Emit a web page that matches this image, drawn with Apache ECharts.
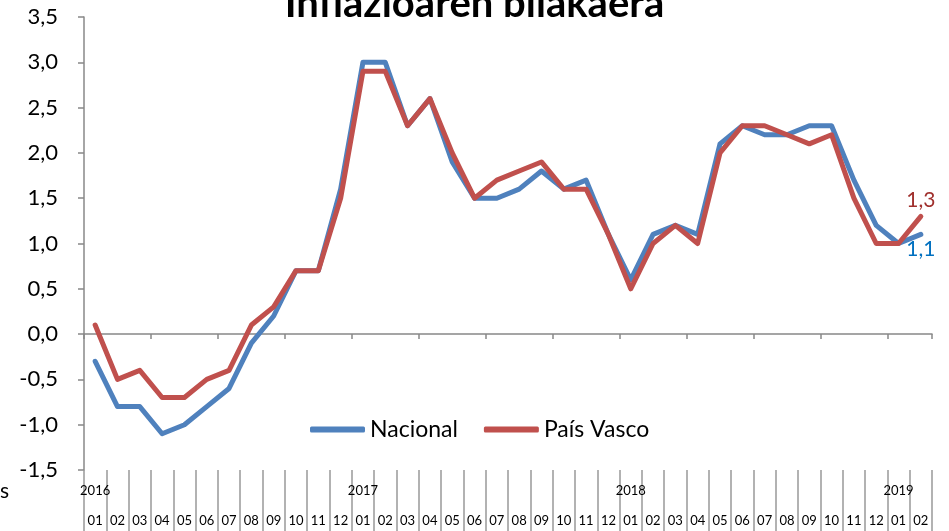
<!DOCTYPE html>
<html>
<head>
<meta charset="utf-8">
<script src="https://cdn.jsdelivr.net/npm/echarts@6/dist/echarts.min.js"></script>
<style>
  html, body { margin: 0; padding: 0; background: #fff; }
  #chart { width: 949px; height: 531px; }
</style>
</head>
<body>
<div id="chart"></div>
<script>
// years and months shown on the category axis
const years = ['2016', '2017', '2018', '2019'];
const months = ['01', '02', '03', '04', '05', '06', '07', '08', '09', '10', '11', '12'];
const lastMonths = ['01', '02'];

// inflation, % year on year
const nacional = [
  -0.3, -0.8, -0.8, -1.1, -1.0, -0.8, -0.6, -0.1, 0.2, 0.7, 0.7, 1.6,
  3.0, 3.0, 2.3, 2.6, 1.9, 1.5, 1.5, 1.6, 1.8, 1.6, 1.7, 1.1,
  0.6, 1.1, 1.2, 1.1, 2.1, 2.3, 2.2, 2.2, 2.3, 2.3, 1.7, 1.2,
  1.0, 1.1
];
const paisVasco = [
  0.1, -0.5, -0.4, -0.7, -0.7, -0.5, -0.4, 0.1, 0.3, 0.7, 0.7, 1.5,
  2.9, 2.9, 2.3, 2.6, 2.0, 1.5, 1.7, 1.8, 1.9, 1.6, 1.6, 1.1,
  0.5, 1.0, 1.2, 1.0, 2.0, 2.3, 2.3, 2.2, 2.1, 2.2, 1.5, 1.0,
  1.0, 1.3
];

const categories = [];
years.forEach((y, i) => {
  (i < years.length - 1 ? months : lastMonths).forEach((m) => categories.push(y + '-' + m));
});

const font = 'Lato, "Open Sans", sans-serif';
const fmt = (v) => Number(v).toFixed(1).replace('.', ',');

// only the last point carries a (tiny) symbol so its value label can show
function withEndLabel(values, color, position, distance) {
  return values.map((v, i) => {
    if (i !== values.length - 1) return v;
    return {
      value: v,
      symbol: 'circle',
      symbolSize: 1,
      label: {
        show: true, position: position, distance: distance, color: color,
        fontFamily: font, fontSize: 21, formatter: (p) => fmt(p.value)
      }
    };
  });
}

const chart = echarts.init(document.getElementById('chart'));
chart.setOption({
  backgroundColor: '#fff',
  animation: false,
  title: {
    text: 'Inflazioaren bilakaera',
    left: 'center',
    top: -21,
    textStyle: { fontFamily: font, fontWeight: 'bold', fontSize: 40, color: '#000' }
  },
  graphic: [{
    type: 'text', left: 0, top: 481,
    style: { text: 's', fontFamily: font, fontSize: 21, fill: '#000' }
  }],
  legend: {
    left: 305, top: 413,
    itemWidth: 55, itemHeight: 6, itemGap: 26,
    textStyle: { fontFamily: font, fontSize: 23, color: '#000' },
    data: [
      { name: 'Nacional', icon: 'roundRect' },
      { name: 'País Vasco', icon: 'roundRect' }
    ]
  },
  grid: { left: 84, right: 17, top: 17, bottom: 61, containLabel: false },
  xAxis: [
    {
      type: 'category', data: categories, position: 'bottom',
      axisLine: { onZero: true, lineStyle: { color: '#888', width: 1.5 } },
      axisTick: { show: true, length: 5, lineStyle: { color: '#888', width: 1.5 } },
      axisLabel: { show: false }
    },
    {
      type: 'category', data: categories, position: 'bottom',
      axisLine: { show: false, onZero: false },
      axisTick: { show: true, length: 62, interval: 0, lineStyle: { color: '#999', width: 1.5 } },
      axisLabel: {
        interval: 0, margin: 44, fontFamily: font, fontSize: 13, color: '#000',
        formatter: (v) => v.slice(5)
      }
    },
    {
      type: 'category', data: categories, position: 'bottom',
      axisLine: { show: false, onZero: false },
      axisTick: { show: false },
      axisLabel: {
        interval: 0, margin: 14, fontFamily: font, fontSize: 13, color: '#000',
        formatter: (v) => (v.slice(5) === '01' ? v.slice(0, 4) : '')
      }
    }
  ],
  yAxis: {
    type: 'value', min: -1.5, max: 3.5, interval: 0.5,
    axisLine: { show: true, lineStyle: { color: '#888', width: 1.5 } },
    axisTick: { show: true, length: 6, lineStyle: { color: '#888', width: 1.5 } },
    splitLine: { show: false },
    axisLabel: { margin: 26, fontFamily: font, fontSize: 22, color: '#000', formatter: fmt }
  },
  series: [
    {
      name: 'Nacional', type: 'line', symbol: 'none',
      color: '#4F81BD',
      lineStyle: { width: 5, color: '#4F81BD', cap: 'round', join: 'round' },
      data: withEndLabel(nacional, '#0070C0', 'bottom', 4)
    },
    {
      name: 'País Vasco', type: 'line', symbol: 'none',
      color: '#C0504D',
      lineStyle: { width: 5, color: '#C0504D', cap: 'round', join: 'round' },
      data: withEndLabel(paisVasco, '#A0302D', 'top', 5)
    }
  ]
});
</script>
</body>
</html>
